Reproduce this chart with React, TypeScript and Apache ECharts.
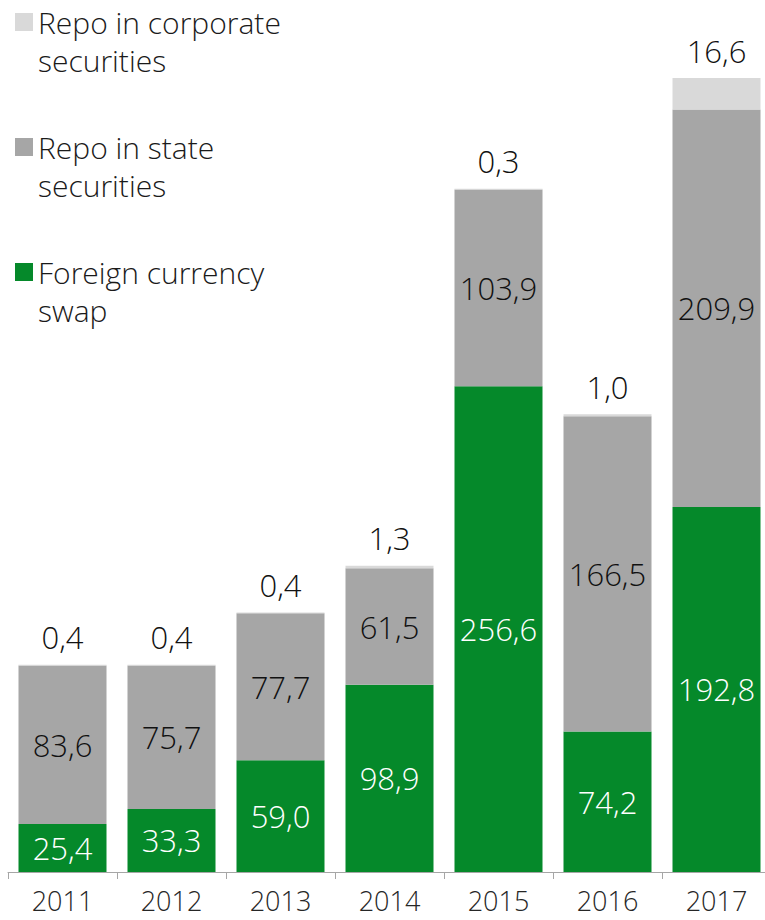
import React, { useEffect, useRef } from "react";
import * as echarts from "echarts";

const years = ["2011", "2012", "2013", "2014", "2015", "2016", "2017"];
const swapValues = [25.4, 33.3, 59.0, 98.9, 256.6, 74.2, 192.8];
const stateRepoValues = [83.6, 75.7, 77.7, 61.5, 103.9, 166.5, 209.9];
const corpRepoValues = [0.4, 0.4, 0.4, 1.3, 0.3, 1.0, 16.6];

const seriesNames = {
  swap: "Foreign currency swap",
  state: "Repo in state securities",
  corp: "Repo in corporate securities",
};
const legendText: Record<string, string> = {
  "Foreign currency swap": "Foreign currency\nswap",
  "Repo in state securities": "Repo in state\nsecurities",
  "Repo in corporate securities": "Repo in corporate\nsecurities",
};

const FONT = "'Open Sans', Lato, sans-serif";
const fmt = (p: any) => Number(p.value).toFixed(1).replace(".", ",");

export default function App() {
  const ref = useRef<HTMLDivElement>(null);
  useEffect(() => {
    if (!ref.current) return;
    const chart = echarts.init(ref.current, null, { renderer: "svg" });
    chart.setOption({
      animation: false,
      textStyle: { fontFamily: FONT },
      grid: { left: 8, right: 4, top: 1, bottom: 48, containLabel: false },
      legend: {
        orient: "vertical",
        left: 15,
        top: -35,
        padding: 0,
        itemWidth: 18,
        itemHeight: 18,
        itemGap: 11,
        icon: "rect",
        selectedMode: false,
        data: [seriesNames.corp, seriesNames.state, seriesNames.swap],
        // leading empty line keeps the first text line level with the marker
        formatter: (name: string) => "\n" + (legendText[name] || name),
        textStyle: {
          fontFamily: FONT,
          fontWeight: 300,
          fontSize: 30,
          lineHeight: 38,
          color: "#1a1a1a",
        },
      },
      xAxis: {
        type: "category",
        data: years,
        axisLine: { lineStyle: { color: "#a6a6a6", width: 1 } },
        axisTick: { show: true, length: 7, lineStyle: { color: "#a6a6a6" } },
        axisLabel: {
          fontFamily: FONT,
          fontWeight: 300,
          fontSize: 27,
          lineHeight: 27,
          color: "#262626",
          margin: 15,
        },
      },
      yAxis: {
        type: "value",
        min: 0,
        max: 460,
        show: false,
        splitLine: { show: false },
      },
      series: [
        {
          name: seriesNames.swap,
          type: "bar",
          stack: "total",
          barWidth: 88,
          data: swapValues,
          itemStyle: { color: "#05892a" },
          label: {
            show: true,
            position: "inside",
            formatter: fmt,
            color: "#ffffff",
            fontFamily: FONT,
            fontWeight: 300,
            fontSize: 31,
          },
        },
        {
          name: seriesNames.state,
          type: "bar",
          stack: "total",
          barWidth: 88,
          data: stateRepoValues,
          itemStyle: { color: "#a6a6a6" },
          label: {
            show: true,
            position: "inside",
            formatter: fmt,
            color: "#111111",
            fontFamily: FONT,
            fontWeight: 300,
            fontSize: 31,
          },
        },
        {
          name: seriesNames.corp,
          type: "bar",
          stack: "total",
          barWidth: 88,
          data: corpRepoValues,
          itemStyle: { color: "#d9d9d9" },
          label: {
            show: true,
            position: "top",
            distance: 12,
            formatter: fmt,
            color: "#111111",
            fontFamily: FONT,
            fontWeight: 300,
            fontSize: 31,
          },
        },
      ],
    });
    return () => chart.dispose();
  }, []);
  return (
    <div
      style={{
        position: "absolute",
        left: 0,
        top: 0,
        width: 765,
        height: 920,
        overflow: "hidden",
        background: "#fff",
      }}
    >
      <div ref={ref} style={{ width: 775, height: 920 }} />
    </div>
  );
}
